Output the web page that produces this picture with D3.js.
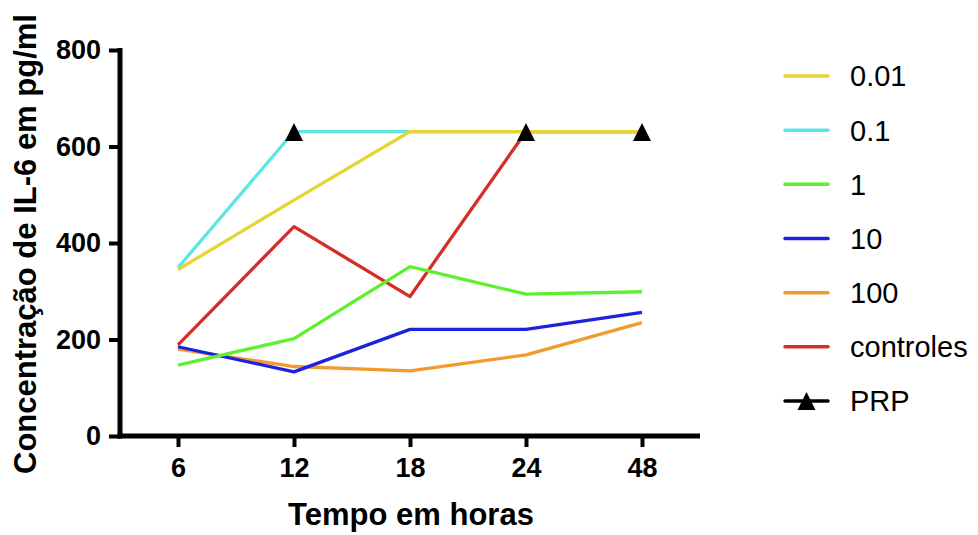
<!DOCTYPE html>
<html lang="pt">
<head>
<meta charset="UTF-8">
<title>IL-6</title>
<script src="https://d3js.org/d3.v7.min.js"></script>
<style>
  body { margin: 0; background: #fff; }
  text { font-family: "Liberation Sans", Arial, sans-serif; fill: #000; }
  .tick-label { font-weight: bold; font-size: 27px; }
  .title { font-weight: bold; font-size: 31px; }
  .leg { font-size: 29px; }
</style>
</head>
<body>
<svg width="978" height="535"></svg>
<script>
// values (pg/ml)
var hours = ["6", "12", "18", "24", "48"];
var yTicks = [0, 200, 400, 600, 800];
var series = ["0.01", "0.1", "1", "10", "100", "controles"];
var colors = ["#e6d433", "#5ee6e4", "#5df02c", "#1d22dd", "#f29a2e", "#d42f27"];
var v001 = [345, 489, 631, 631, 631];
var v01 = [349, 631, 631, 631, 631];
var v1 = [147, 202, 351, 294, 299];
var v10 = [185, 133, 221, 221, 256];
var v100 = [180, 144, 135, 168, 235];
var vCtrl = [189, 434, 289, 631, 631];
var prpHours = ["12", "24", "48"];
var prpValues = [630, 630, 630];

var values = [v001, v01, v1, v10, v100, vCtrl];

var svg = d3.select("svg");
var x = d3.scalePoint().domain(hours).range([120, 700]).padding(0.5);
var y = d3.scaleLinear().domain([0, 800]).range([436, 50]);

// axes
var xAxis = svg.append("g").attr("transform", "translate(0,436)")
    .call(d3.axisBottom(x).tickSize(11).tickPadding(10).tickSizeOuter(0));
var yAxis = svg.append("g").attr("transform", "translate(120,0)")
    .call(d3.axisLeft(y).tickValues(yTicks).tickSize(11).tickPadding(8).tickSizeOuter(0));
[xAxis, yAxis].forEach(function (g) {
    g.select(".domain").attr("stroke", "#000").attr("stroke-width", 5);
    g.selectAll(".tick line").attr("stroke", "#000").attr("stroke-width", 4);
    g.selectAll(".tick text").attr("class", "tick-label").attr("fill", "#000");
});
xAxis.select(".domain").attr("d", "M117.5,0H700");
yAxis.select(".domain").attr("d", "M0,438.5V48");
xAxis.selectAll(".tick text").attr("dy", "0.75em");

// lines, drawn last-to-first so the first series sits on top
var line = d3.line().x(function (d, i) { return x(hours[i]); }).y(function (d) { return y(d); });
var order = d3.range(series.length).reverse();
svg.append("g").selectAll("path")
    .data(order)
    .enter()
    .append("path")
    .attr("d", function (k) { return line(values[k]); })
    .attr("fill", "none")
    .attr("stroke", function (k) { return colors[k]; })
    .attr("stroke-width", 3.3)
    .attr("stroke-linejoin", "round");

var tri = "M0,-9L9,9L-9,9Z";
svg.append("g").selectAll("path")
    .data(prpValues)
    .enter()
    .append("path")
    .attr("d", tri)
    .attr("transform", function (d, i) { return "translate(" + x(prpHours[i]) + "," + y(d) + ")"; })
    .attr("fill", "#000");

// titles
svg.append("text").attr("class", "title")
    .attr("x", 411).attr("y", 525).attr("text-anchor", "middle")
    .text("Tempo em horas");
svg.append("text").attr("class", "title")
    .attr("transform", "translate(36,244) rotate(-90)")
    .attr("text-anchor", "middle")
    .text("Concentração de IL-6 em pg/ml");

// legend
var legY = d3.scalePoint().domain(series.concat(["PRP"])).range([76, 401]);
var leg = svg.append("g");
series.forEach(function (s, i) {
    leg.append("line").attr("x1", 785).attr("x2", 828)
        .attr("y1", legY(s)).attr("y2", legY(s))
        .attr("stroke", colors[i]).attr("stroke-width", 3.5).attr("stroke-linecap", "round");
    leg.append("text").attr("class", "leg").attr("x", 850).attr("y", legY(s)).attr("dy", "0.36em").text(s);
});
leg.append("line").attr("x1", 785).attr("x2", 828)
    .attr("y1", legY("PRP")).attr("y2", legY("PRP"))
    .attr("stroke", "#000").attr("stroke-width", 3.5).attr("stroke-linecap", "round");
leg.append("path").attr("d", tri).attr("transform", "translate(806.5," + legY("PRP") + ")").attr("fill", "#000");
leg.append("text").attr("class", "leg").attr("x", 850).attr("y", legY("PRP")).attr("dy", "0.36em").text("PRP");
</script>
</body>
</html>
